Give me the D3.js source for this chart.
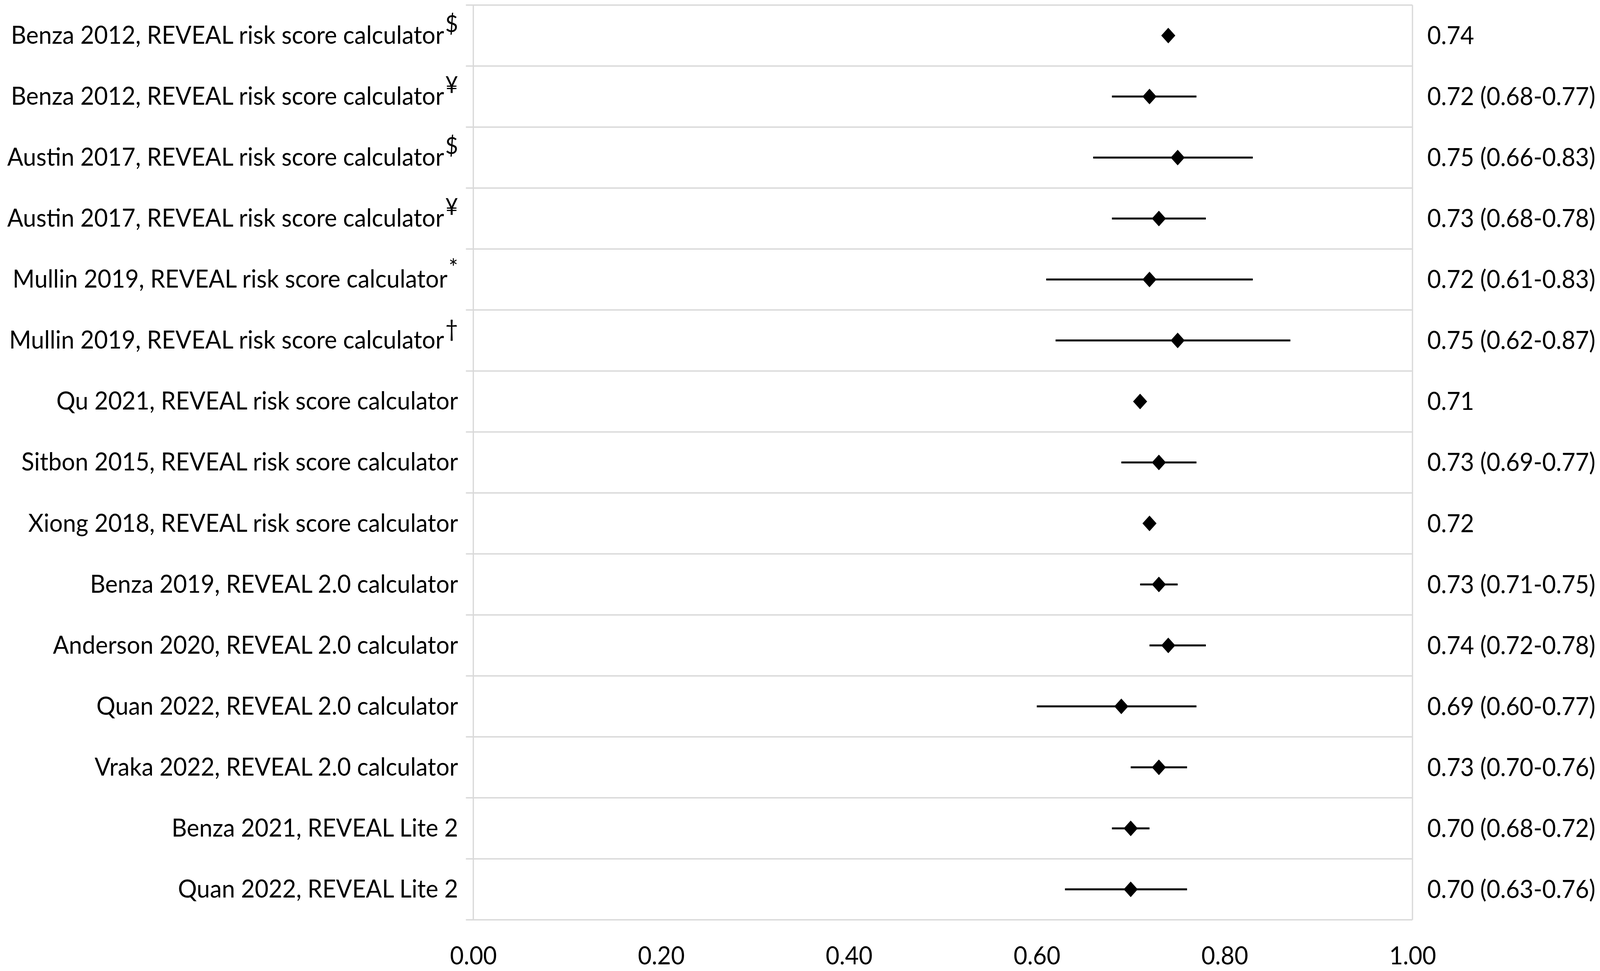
<!DOCTYPE html>
<html>
<head>
<meta charset="utf-8">
<script src="https://cdn.jsdelivr.net/npm/d3@7"></script>
<style>
  html, body { margin: 0; padding: 0; background: #fff; overflow: hidden; }
  #chart svg { display: block; width: 100vw; height: 100vh; }
</style>
</head>
<body>
<div id="chart"></div>
<script>
// study labels, superscript marks, AUC point estimates and 95% CI
const studies = [
  "Benza 2012, REVEAL risk score calculator",
  "Benza 2012, REVEAL risk score calculator",
  "Austin 2017, REVEAL risk score calculator",
  "Austin 2017, REVEAL risk score calculator",
  "Mullin 2019, REVEAL risk score calculator",
  "Mullin 2019, REVEAL risk score calculator",
  "Qu 2021, REVEAL risk score calculator",
  "Sitbon 2015, REVEAL risk score calculator",
  "Xiong 2018, REVEAL risk score calculator",
  "Benza 2019, REVEAL 2.0 calculator",
  "Anderson 2020, REVEAL 2.0 calculator",
  "Quan 2022, REVEAL 2.0 calculator",
  "Vraka 2022, REVEAL 2.0 calculator",
  "Benza 2021, REVEAL Lite 2",
  "Quan 2022, REVEAL Lite 2"
];
const marks = ["$", "¥", "$", "¥", "*", "†", "", "", "", "", "", "", "", "", ""];
const auc   = [0.74, 0.72, 0.75, 0.73, 0.72, 0.75, 0.71, 0.73, 0.72, 0.73, 0.74, 0.69, 0.73, 0.70, 0.70];
const ciLow = [null, 0.68, 0.66, 0.68, 0.61, 0.62, null, 0.69, null, 0.71, 0.72, 0.60, 0.70, 0.68, 0.63];
const ciHigh= [null, 0.77, 0.83, 0.78, 0.83, 0.87, null, 0.77, null, 0.75, 0.78, 0.77, 0.76, 0.72, 0.76];
const xTicks = [0, 0.2, 0.4, 0.6, 0.8, 1.0];

const width = 4317, height = 2485;
const margin = { top: 13, right: 506, bottom: 131, left: 1277 };
const font = "Lato, 'Open Sans', sans-serif";
const fontSize = 64;
const grid = "#d9d9d9";

// scale to whatever the viewport is
const svg = d3.select("#chart").append("svg")
  .attr("viewBox", [0, 0, width, height])
  .attr("preserveAspectRatio", "none")
  .style("font-family", font);

const x = d3.scaleLinear()
  .domain([0, 1])
  .range([margin.left, width - margin.right]);

const y = d3.scaleBand()
  .domain(d3.range(studies.length))
  .range([margin.top, height - margin.bottom])
  .padding(0);

const rows = studies.map((s, i) => ({
  i, label: s, mark: marks[i], auc: auc[i], lo: ciLow[i], hi: ciHigh[i]
}));

// horizontal row separators (with small outside ticks on the left)
const bounds = d3.range(studies.length + 1).map(i =>
  i < studies.length ? y(i) : y(studies.length - 1) + y.bandwidth());

svg.append("g")
  .selectAll("line")
  .data(bounds)
  .join("line")
    .attr("x1", x(0) - 20)
    .attr("x2", x(1))
    .attr("y1", d => d)
    .attr("y2", d => d)
    .attr("stroke", grid)
    .attr("stroke-width", 3.5);

// left axis and right border
svg.append("g")
  .selectAll("line")
  .data([0, 1])
  .join("line")
    .attr("x1", d => x(d))
    .attr("x2", d => x(d))
    .attr("y1", bounds[0])
    .attr("y2", bounds[bounds.length - 1])
    .attr("stroke", grid)
    .attr("stroke-width", 3.5);

// x axis tick labels
const xAxis = svg.append("g")
  .attr("transform", `translate(0,${bounds[bounds.length - 1]})`)
  .call(d3.axisBottom(x).tickValues(xTicks).tickFormat(d3.format(".2f")).tickSize(0).tickPadding(0));
xAxis.select(".domain").remove();
xAxis.selectAll("text")
  .attr("y", 114)
  .attr("dy", null)
  .attr("fill", "#000")
  .style("font-size", fontSize + "px")
  .style("font-family", font);

// error bars
svg.append("g")
  .selectAll("line")
  .data(rows.filter(d => d.lo != null))
  .join("line")
    .attr("x1", d => x(d.lo))
    .attr("x2", d => x(d.hi))
    .attr("y1", d => y(d.i) + y.bandwidth() / 2)
    .attr("y2", d => y(d.i) + y.bandwidth() / 2)
    .attr("stroke", "#000")
    .attr("stroke-width", 5);

// diamonds
svg.append("g")
  .selectAll("path")
  .data(rows)
  .join("path")
    .attr("transform", d => `translate(${x(d.auc)},${y(d.i) + y.bandwidth() / 2})`)
    .attr("d", "M0,-20L19,0L0,20L-19,0Z")
    .attr("fill", "#000");

// study labels on the left
const lab = svg.append("g")
  .attr("text-anchor", "end")
  .style("font-size", fontSize + "px")
  .selectAll("text")
  .data(rows)
  .join("text")
    .attr("x", 1236)
    .attr("y", d => y(d.i) + y.bandwidth() / 2 + 21)
    .attr("fill", "#000");
lab.append("tspan").text(d => d.label);
lab.filter(d => d.mark)
  .append("tspan")
    .attr("dx", 3)
    .attr("dy", -30)
    .style("font-size", "60px")
    .text(d => d.mark);

// estimate labels on the right
svg.append("g")
  .style("font-size", fontSize + "px")
  .selectAll("text")
  .data(rows)
  .join("text")
    .attr("x", x(1) + 40)
    .attr("y", d => y(d.i) + y.bandwidth() / 2 + 22)
    .attr("fill", "#000")
    .text(d => d.lo != null
      ? `${d.auc.toFixed(2)} (${d.lo.toFixed(2)}-${d.hi.toFixed(2)})`
      : d.auc.toFixed(2));
</script>
</body>
</html>
